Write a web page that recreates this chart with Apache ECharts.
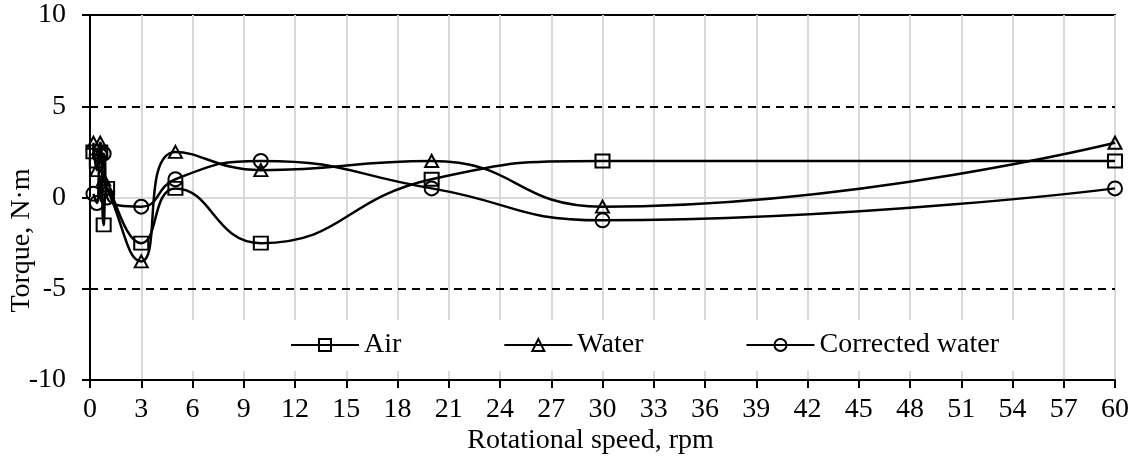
<!DOCTYPE html>
<html>
<head>
<meta charset="utf-8">
<script src="https://cdn.jsdelivr.net/npm/echarts@6/dist/echarts.min.js"></script>
<style>html,body{margin:0;padding:0;background:#fff;}#c{width:1134px;height:469px;}</style>
</head>
<body>
<div id="c"></div>
<script>
// Rotational speed (rpm)
const speeds = [0.2, 0.4, 0.6, 0.8, 1, 3, 5, 10, 20, 30, 60];
// Torque (N·m)
const air = [2.5, 2.0, 2.5, -1.5, 0.5, -2.5, 0.5, -2.5, 1.0, 2.0, 2.0];
const water = [3.0, 1.5, 3.0, 1.0, 0.5, -3.5, 2.5, 1.5, 2.0, -0.5, 3.0];
const correctedWater = [0.2, -0.3, 2.3, 2.4, 0.0, -0.5, 1.0, 2.0, 0.5, -1.25, 0.5];
const seriesNames = ['Air', 'Water', 'Corrected water'];
const xTicks = {min: 0, max: 60, interval: 3};
const yTicks = {min: -10, max: 10, interval: 5};
const refLines = [5, -5];

const FONT = 'Liberation Serif';
const chart = echarts.init(document.getElementById('c'));
function pairs(ys){ return speeds.map((x,i)=>[x, ys[i]]); }
function mk(name, ys, symbol, size, extra){
  return Object.assign({
    name: name, type: 'line', data: pairs(ys), smooth: 0.5, smoothConstraint: false,
    symbol: symbol, symbolSize: size, showSymbol: true,
    lineStyle: {color: '#000', width: 2.5},
    itemStyle: {color: 'rgba(0,0,0,0)', borderColor: '#000', borderWidth: 2},
    emphasis: {disabled: true}, z: 3
  }, extra || {});
}
chart.setOption({
  animation: false,
  backgroundColor: '#fff',
  textStyle: {fontFamily: FONT, color: '#000'},
  grid: {left: 90, right: 19, top: 15, bottom: 89, containLabel: false, outerBoundsMode: 'none',
         show: true, borderColor: '#000', borderWidth: 2, backgroundColor: 'transparent'},
  legend: {
    data: seriesNames, left: 192, top: 320, orient: 'horizontal',
    backgroundColor: '#fff', padding: [11, 60, 12, 98],
    itemWidth: 68, itemHeight: 15, itemGap: 102,
    textStyle: {fontFamily: FONT, fontSize: 28, color: '#000'},
    z: 10
  },
  xAxis: {
    type: 'value', min: xTicks.min, max: xTicks.max, interval: xTicks.interval,
    name: 'Rotational speed, rpm', nameLocation: 'middle', nameGap: 47, nameMoveOverlap: false,
    nameTextStyle: {fontFamily: FONT, fontSize: 28, color: '#000', padding: [0, 24, 0, 0]},
    axisLine: {show: true, onZero: false, lineStyle: {color: '#000', width: 2}},
    axisTick: {show: true, inside: false, length: 8, lineStyle: {color: '#000', width: 2}},
    axisLabel: {fontFamily: FONT, fontSize: 28, color: '#000', margin: 16},
    splitLine: {show: true, lineStyle: {color: '#d9d9d9', width: 2}}
  },
  yAxis: {
    type: 'value', min: yTicks.min, max: yTicks.max, interval: yTicks.interval,
    name: 'Torque, N·m', nameLocation: 'middle', nameGap: 54, nameRotate: 90, nameMoveOverlap: false,
    nameTextStyle: {fontFamily: FONT, fontSize: 28, color: '#000', padding: [0, 86, 0, 0]},
    axisLine: {show: true, onZero: false, lineStyle: {color: '#000', width: 2}},
    axisTick: {show: true, inside: false, length: 8, lineStyle: {color: '#000', width: 2}},
    axisLabel: {fontFamily: FONT, fontSize: 28, color: '#000', margin: 24},
    splitLine: {show: false}
  },
  series: [
    mk(seriesNames[0], air, 'rect', [14, 13], {
      markLine: {
        silent: true, symbol: 'none', label: {show: false}, z: 1,
        data: [
          {yAxis: 0, lineStyle: {color: '#d9d9d9', width: 2, type: 'solid'}},
          {yAxis: refLines[0], lineStyle: {color: '#000', width: 2, type: [8, 6]}},
          {yAxis: refLines[1], lineStyle: {color: '#000', width: 2, type: [8, 6]}}
        ]
      }
    }),
    mk(seriesNames[1], water, 'triangle', [13, 12]),
    mk(seriesNames[2], correctedWater, 'circle', 14)
  ]
});
</script>
</body>
</html>
